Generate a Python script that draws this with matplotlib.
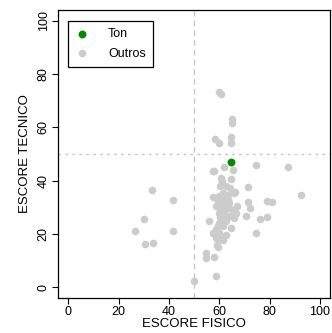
import matplotlib
matplotlib.use("Agg")
import matplotlib.pyplot as plt

plt.rcParams["font.family"] = ["Liberation Sans", "DejaVu Sans"]

# Destaque
ton_fisico = [64.8]
ton_tecnico = [46.9]

# Outros atletas
outros_fisico = [
    60.1, 60.8, 65.0, 65.0, 58.5, 60.1, 64.7, 64.7, 74.7, 87.2, 92.5,
    58.1, 57.4, 61.7, 65.6, 60.7, 61.1, 60.3, 64.6, 62.7, 64.3, 71.5,
    66.4, 65.9, 57.7, 71.4, 72.3, 78.9, 80.9, 70.8, 76.2, 78.8, 74.7,
    64.7, 67.1, 65.8, 56.1, 59.2, 59.4, 54.8, 54.8, 57.8, 58.9, 49.9,
    33.1, 41.5, 30.2, 26.5, 41.5, 30.6, 33.7,
    58.8, 59.4, 60.1, 60.7, 61.4, 62.1, 61.1, 61.7, 60.7, 60.1, 59.4,
    61.1, 62.1, 63.4, 64.0, 62.7, 64.0, 65.3, 66.7, 66.0, 64.0, 62.7,
    61.4, 60.1, 58.8, 60.7, 57.4, 60.1, 62.1, 63.4, 61.4, 60.1, 58.8,
    60.3, 61.5, 62.5,
]
outros_tecnico = [
    73.1, 72.4, 63.1, 61.5, 55.5, 54.3, 56.2, 54.3, 45.7, 45.2, 34.5,
    43.7, 43.5, 45.3, 44.1, 41.0, 39.7, 37.9, 40.7, 37.9, 37.3, 37.7,
    35.7, 35.2, 33.9, 32.0, 29.8, 32.3, 32.0, 26.9, 25.7, 26.4, 20.4,
    22.3, 30.4, 26.7, 24.9, 16.0, 15.0, 13.0, 11.1, 11.2, 4.1, 2.4,
    36.4, 32.9, 25.8, 21.0, 21.0, 16.1, 16.6,
    21.7, 22.9, 24.2, 24.8, 25.4, 26.0, 27.3, 28.5, 29.8, 31.0, 32.3,
    32.9, 33.5, 32.9, 31.6, 30.4, 29.8, 29.1, 27.9, 26.0, 26.6, 24.8,
    22.9, 20.4, 18.6, 18.2, 20.4, 27.9, 31.0, 34.7, 35.4, 34.1, 30.4,
    26.4, 17.8, 19.5,
]

ticks = [0, 20, 40, 60, 80, 100]

fig = plt.figure(figsize=(3.32, 3.33), dpi=100)
ax = fig.add_axes([0.175, 0.105, 0.819, 0.865])

ax.axvline(50, color="#c8c8c8", linestyle=(0, (4, 3)), linewidth=1, zorder=1)
ax.axhline(50, color="#c8c8c8", linestyle=(0, (2, 3)), linewidth=1, zorder=1)

ax.scatter(outros_fisico, outros_tecnico, s=30, color="#cccccc", linewidths=0,
           label="Outros", zorder=2)
ax.scatter(ton_fisico, ton_tecnico, s=32, color="#008b00", linewidths=0,
           label="Ton", zorder=3)

ax.set_xlim(-4, 104)
ax.set_ylim(-4, 104)
ax.set_xticks(ticks)
ax.set_yticks(ticks)
ax.tick_params(labelsize=9, length=4, width=0.8, direction="out", pad=2)
for lab in ax.get_yticklabels():
    lab.set_rotation(90)
    lab.set_va("center")
ax.set_xlabel("ESCORE FISICO", fontsize=9.5, labelpad=0)
ax.set_ylabel("ESCORE TECNICO", fontsize=9.5, labelpad=5)
for sp in ax.spines.values():
    sp.set_linewidth(0.9)

handles, labels = ax.get_legend_handles_labels()
leg = ax.legend(handles[::-1], labels[::-1], loc="upper left",
                bbox_to_anchor=(0.037, 0.963), fontsize=9, fancybox=False,
                edgecolor="black", framealpha=1, borderpad=0.6,
                handlelength=1.0, handletextpad=1.6, labelspacing=0.6,
                borderaxespad=0)
leg.get_frame().set_linewidth(0.9)

fig.savefig("out.png", dpi=100)
